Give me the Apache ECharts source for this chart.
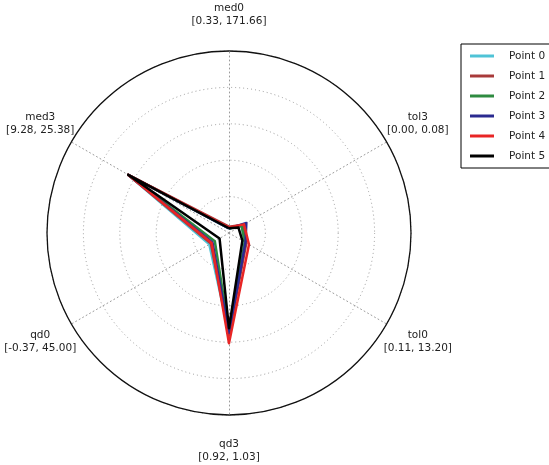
<!DOCTYPE html>
<html>
<head>
<meta charset="utf-8">
<script src="https://cdn.jsdelivr.net/npm/echarts@6/dist/echarts.min.js"></script>
<style>html,body{margin:0;padding:0;background:#fff}#c{width:549px;height:465px}</style>
</head>
<body>
<div id="c"></div>
<script>
// Axes listed counter-clockwise starting at top (ECharts radar order)
const axisNames = ['med0', 'med3', 'qd0', 'qd3', 'tol0', 'tol3'];
const axisMin   = [0.33, 9.28, -0.37, 0.92, 0.11, 0.00];
const axisMax   = [171.66, 25.38, 45.00, 1.03, 13.20, 0.08];
const axisRangeLabels = ['[0.33, 171.66]', '[9.28, 25.38]', '[-0.37, 45.00]', '[0.92, 1.03]', '[0.11, 13.20]', '[0.00, 0.08]'];

const seriesNames = ['Point 0', 'Point 1', 'Point 2', 'Point 3', 'Point 4', 'Point 5'];
const seriesColors = ['#4fc3d6', '#a83a3a', '#2e8b40', '#2a2a90', '#e82525', '#000000'];
// values in order: med0, med3, qd0, qd3, tol0, tol3
const point0 = [4.6, 19.58, 5.30, 0.9805, 1.42, 0.0064];
const point1 = [6.3, 19.58, 4.85, 0.9816, 1.55, 0.0072];
const point2 = [4.6, 19.58, 3.71, 0.9794, 1.42, 0.0064];
const point3 = [4.6, 19.58, 4.39, 0.9805, 1.48, 0.0088];
const point4 = [5.5, 19.58, 4.62, 0.9867, 1.77, 0.0076];
const point5 = [4.8, 19.58, 2.35, 0.9776, 1.22, 0.0048];
const allPoints = [point0, point1, point2, point3, point4, point5];

const FONT = 'DejaVu Sans';
const indicators = axisNames.map((n, i) => ({ name: n, min: axisMin[i], max: axisMax[i] }));

const chart = echarts.init(document.getElementById('c'), null, { renderer: 'canvas' });
chart.setOption({
  animation: false,
  backgroundColor: '#ffffff',
  legend: {
    orient: 'vertical',
    left: 461,
    top: 44,
    padding: [2, 12, 2, 9],
    itemGap: 0,
    itemWidth: 24,
    itemHeight: 3,
    icon: 'rect',
    backgroundColor: '#ffffff',
    borderColor: '#000000',
    borderWidth: 1,
    borderRadius: 0,
    textStyle: { fontFamily: FONT, fontSize: 10.5, color: '#222', lineHeight: 20, padding: [0, 0, 0, 10] },
    data: seriesNames
  },
  radar: [{
    center: [229, 233],
    radius: 182,
    startAngle: 90,
    shape: 'circle',
    splitNumber: 5,
    indicator: indicators,
    nameGap: 36,
    axisName: {
      fontFamily: FONT,
      fontSize: 10.5,
      color: '#222',
      lineHeight: 12.5,
      align: 'center',
      verticalAlign: 'middle',
      formatter: function (name) {
        const i = axisNames.indexOf(name);
        return name + '\n' + axisRangeLabels[i];
      }
    },
    axisLine: { show: true, lineStyle: { color: '#9a9a9a', type: [1, 3], width: 1 } },
    splitLine: { show: true, lineStyle: { color: '#9a9a9a', type: [1, 3], width: 1 } },
    splitArea: { show: false },
    axisTick: { show: false },
    axisLabel: { show: false }
  }, {
    center: [229, 233],
    radius: 182,
    startAngle: 90,
    shape: 'circle',
    splitNumber: 1,
    indicator: indicators.map(d => ({ name: '', min: d.min, max: d.max })),
    axisName: { show: false },
    axisLine: { show: false },
    splitLine: { show: true, lineStyle: { color: '#111', width: 1.3, type: 'solid' } },
    splitArea: { show: false },
    axisTick: { show: false },
    axisLabel: { show: false }
  }],
  series: allPoints.map((vals, i) => ({
    type: 'radar',
    radarIndex: 0,
    name: seriesNames[i],
    symbol: 'none',
    color: seriesColors[i],
    lineStyle: { width: 2.5, color: seriesColors[i] },
    itemStyle: { color: seriesColors[i] },
    z: 2 + i,
    data: [{ value: vals, name: seriesNames[i] }]
  }))
});
</script>
</body>
</html>
